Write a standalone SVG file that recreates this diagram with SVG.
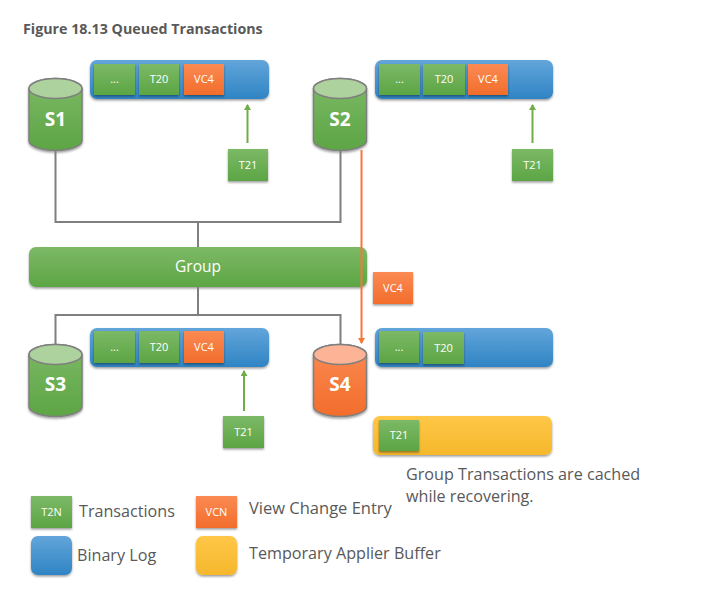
<svg xmlns="http://www.w3.org/2000/svg" width="707" height="616" viewBox="0 0 707 616">
<style>
text{font-family:"Open Sans","Noto Sans","Liberation Sans",sans-serif}
.t{font-size:11px;fill:#fff;text-anchor:middle}
.c{font-size:19px;font-weight:700;fill:#fff;text-anchor:middle}
.l{font-size:16.15px;fill:#595959}
.g{fill:url(#gr);filter:url(#sh)}
.o{fill:url(#or);filter:url(#sh)}
.b{fill:url(#bl);filter:url(#sh)}
.y{fill:url(#ye);filter:url(#sh)}
.cy{stroke:#7f7f7f;stroke-width:1.5;filter:url(#sh)}
.conn{fill:none;stroke:#7f7f7f;stroke-width:2}
</style>
<defs>
<linearGradient id="gr" x1="0" y1="0" x2="0" y2="1"><stop offset="0" stop-color="#7cb966"/><stop offset="1" stop-color="#5ca544"/></linearGradient>
<linearGradient id="or" x1="0" y1="0" x2="0" y2="1"><stop offset="0" stop-color="#fb8a53"/><stop offset="1" stop-color="#f26d2b"/></linearGradient>
<linearGradient id="bl" x1="0" y1="0" x2="0" y2="1"><stop offset="0" stop-color="#62a5da"/><stop offset="1" stop-color="#2f84c4"/></linearGradient>
<linearGradient id="ye" x1="0" y1="0" x2="0" y2="1"><stop offset="0" stop-color="#ffc748"/><stop offset="1" stop-color="#f5b82c"/></linearGradient>
<filter id="sh" x="-20%" y="-20%" width="140%" height="150%"><feDropShadow dx="0" dy="1.5" stdDeviation="1.2" flood-color="#000" flood-opacity="0.4"/></filter>
<marker id="ag" markerWidth="8" markerHeight="8" refX="5" refY="3.5" orient="auto" markerUnits="userSpaceOnUse"><path d="M0 0L6 3.5L0 7z" fill="#70ad47"/></marker>
<marker id="ao" markerWidth="8" markerHeight="8" refX="5" refY="3.5" orient="auto" markerUnits="userSpaceOnUse"><path d="M0 0L6 3.5L0 7z" fill="#f4783a"/></marker>
<path id="cyl" d="M0 10A26.5 10 0 0 1 53 10V62A26.5 10 0 0 1 0 62Z"/>
</defs>
<text x="23" y="34" font-weight="700" fill="#595959" style="font-size:14.25px">Figure 18.13 Queued Transactions</text>

<g id="s1"><use href="#cyl" x="29" y="78.500" class="cy" fill="url(#gr)"/><ellipse cx="55.500" cy="88.500" rx="26.500" ry="10" fill="#aed29e" stroke="#7f7f7f" stroke-width="1.500"/><text class="c" x="55.500" y="126">S1</text></g>
<g id="s2"><use href="#cyl" x="313.500" y="78.500" class="cy" fill="url(#gr)"/><ellipse cx="340" cy="88.500" rx="26.500" ry="10" fill="#aed29e" stroke="#7f7f7f" stroke-width="1.500"/><text class="c" x="340" y="126">S2</text></g>
<g id="s3"><use href="#cyl" x="29" y="344.500" class="cy" fill="url(#gr)"/><ellipse cx="55.500" cy="354.500" rx="26.500" ry="10" fill="#aed29e" stroke="#7f7f7f" stroke-width="1.500"/><text class="c" x="55.500" y="391">S3</text></g>
<g id="s4"><use href="#cyl" x="313.500" y="344.500" class="cy" fill="url(#or)"/><ellipse cx="340" cy="354.500" rx="26.500" ry="10" fill="#fcb396" stroke="#7f7f7f" stroke-width="1.500"/><text class="c" x="340" y="391">S4</text></g>

<g id="log-s1"><rect class="b" x="90" y="60" width="179" height="39" rx="7"/>
<rect class="g" x="94" y="64" width="41" height="31"/><text class="t" x="114.500" y="83">...</text>
<rect class="g" x="139" y="64" width="40" height="31"/><text class="t" x="159" y="83">T20</text>
<rect class="o" x="184" y="64" width="40" height="31"/><text class="t" x="204" y="83">VC4</text></g>
<g id="log-s2"><rect class="b" x="375" y="60" width="178" height="39" rx="7"/>
<rect class="g" x="379" y="64" width="41" height="31"/><text class="t" x="399.500" y="83">...</text>
<rect class="g" x="423" y="64" width="42" height="31"/><text class="t" x="444" y="83">T20</text>
<rect class="o" x="468" y="64" width="40" height="31"/><text class="t" x="488" y="83">VC4</text></g>
<g id="log-s3"><rect class="b" x="90" y="328" width="179" height="39" rx="7"/>
<rect class="g" x="94" y="331" width="41" height="32"/><text class="t" x="114.500" y="351">...</text>
<rect class="g" x="139" y="331" width="40" height="32"/><text class="t" x="159" y="351">T20</text>
<rect class="o" x="184" y="331" width="40" height="32"/><text class="t" x="204" y="351">VC4</text></g>
<g id="log-s4"><rect class="b" x="375" y="328" width="178" height="39" rx="7"/>
<rect class="g" x="379" y="331" width="40" height="32"/><text class="t" x="399" y="351">...</text>
<rect class="g" x="423" y="332" width="41" height="32"/><text class="t" x="443.500" y="352">T20</text></g>
<g id="buffer-s4"><rect class="y" x="373" y="416" width="179" height="39" rx="7"/>
<rect class="g" x="379" y="420" width="40" height="31"/><text class="t" x="399" y="439">T21</text></g>

<g id="t21-s1"><rect class="g" x="228" y="149" width="40" height="32"/><text class="t" x="248" y="169">T21</text></g>
<g id="t21-s2"><rect class="g" x="512" y="149" width="41" height="32"/><text class="t" x="532.500" y="169">T21</text></g>
<g id="t21-s3"><rect class="g" x="223" y="416" width="41" height="32"/><text class="t" x="243.500" y="436">T21</text></g>
<g id="group"><rect class="g" x="29" y="247" width="338" height="40" rx="7"/><text x="198" y="272" text-anchor="middle" fill="#fff" style="font-size:15.5px">Group</text></g>
<g id="vc4"><rect class="o" x="373" y="272" width="40" height="32"/><text class="t" x="393" y="292">VC4</text></g>

<g id="connectors">
<path class="conn" d="M55.500 150V222H340.500V150"/>
<path class="conn" d="M198 222V247"/>
<path class="conn" d="M198 287V315"/>
<path class="conn" d="M340.500 344V315H55.500V344"/>
<path d="M361.500 150V343" fill="none" stroke="#f4783a" stroke-width="2" marker-end="url(#ao)"/>
<path d="M247.500 143V105" fill="none" stroke="#70ad47" stroke-width="2" marker-end="url(#ag)"/>
<path d="M532.500 143V105" fill="none" stroke="#70ad47" stroke-width="2" marker-end="url(#ag)"/>
<path d="M244 411V371" fill="none" stroke="#70ad47" stroke-width="2" marker-end="url(#ag)"/>
</g>

<text class="l" x="406" y="480">Group Transactions are cached</text>
<text class="l" x="406" y="502">while recovering.</text>

<g id="legend-t"><rect class="g" x="31" y="496" width="41" height="32"/><text class="t" x="51.500" y="516">T2N</text><text class="l" x="79" y="517">Transactions</text></g>
<g id="legend-v"><rect class="o" x="196" y="496" width="41" height="32"/><text class="t" x="216.500" y="516">VCN</text><text class="l" x="249" y="514" style="font-size:16.5px">View Change Entry</text></g>
<g id="legend-b"><rect class="b" x="31" y="536" width="41" height="39" rx="7"/><text class="l" x="77" y="561">Binary Log</text></g>
<g id="legend-y"><rect class="y" x="196" y="536" width="41" height="39" rx="7"/><text class="l" x="249" y="559">Temporary Applier Buffer</text></g>
</svg>
